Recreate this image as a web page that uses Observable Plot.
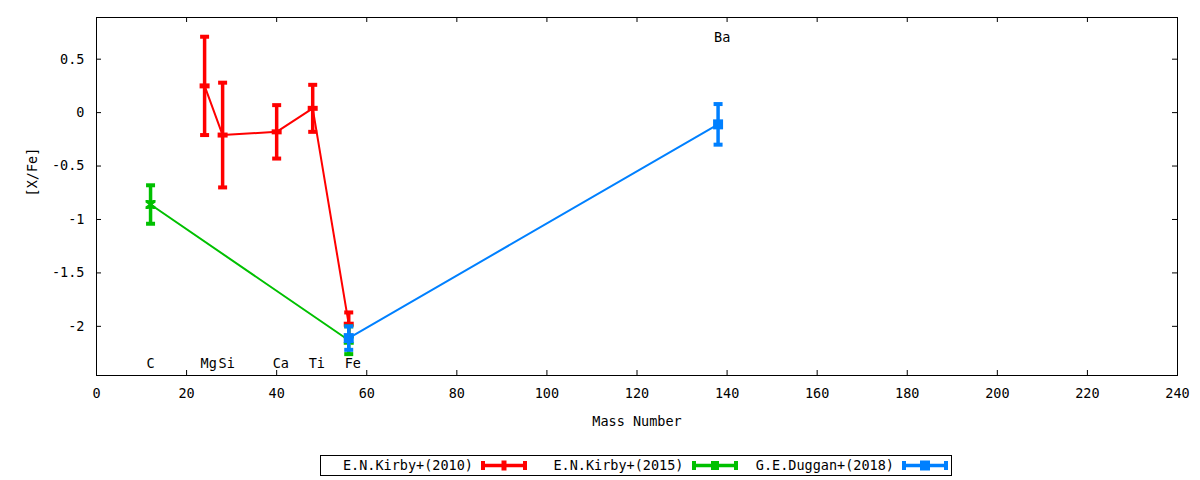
<!DOCTYPE html>
<html>
<head>
<meta charset="utf-8">
<script src="https://cdn.jsdelivr.net/npm/d3@7"></script>
<script src="https://cdn.jsdelivr.net/npm/@observablehq/plot@0.6"></script>
<style>
  body { margin: 0; background: #fff; font-family: "DejaVu Sans Mono", monospace; }
  #chart { position: relative; width: 1200px; height: 480px; overflow: hidden; }
  #legend { position: absolute; left: 320px; top: 455px; width: 630px; height: 19px; border: 1px solid #000; background: #fff; }
  .entry { position: absolute; top: 0; height: 19px; width: 210px; }
  .entry .lab { position: absolute; right: 58px; top: 0; line-height: 19px; font-size: 13.5px; white-space: nowrap; color: #000; }
  .entry svg { position: absolute; left: 160px; top: 3px; }
</style>
</head>
<body>
<div id="chart"></div>
<script>
// ---- data ----
const seriesNames = ["E.N.Kirby+(2010)", "E.N.Kirby+(2015)", "G.E.Duggan+(2018)"];
const seriesColors = ["#ff0000", "#00c000", "#0080ff"];

const kirby2010Element = ["Mg", "Si", "Ca", "Ti", "Fe"];
const kirby2010Mass    = [24, 28, 40, 48, 56];
const kirby2010Value   = [0.25, -0.21, -0.18, 0.04, -1.98];
const kirby2010Error   = [0.46, 0.49, 0.25, 0.22, 0.11];

const kirby2015Element = ["C", "Fe"];
const kirby2015Mass    = [12, 56];
const kirby2015Value   = [-0.86, -2.13];
const kirby2015Error   = [0.18, 0.13];

const duggan2018Element = ["Fe", "Ba"];
const duggan2018Mass    = [56, 138];
const duggan2018Value   = [-2.11, -0.11];
const duggan2018Error   = [0.11, 0.19];

const labelElement = ["C", "Mg", "Si", "Ca", "Ti", "Fe", "Ba"];
const labelMass    = [12, 24, 28, 40, 48, 56, 138];
const labelValue   = [-2.35, -2.35, -2.35, -2.35, -2.35, -2.35, 0.7];

const xTicks = [0, 20, 40, 60, 80, 100, 120, 140, 160, 180, 200, 220, 240];
const yTicks = [0.5, 0, -0.5, -1, -1.5, -2];
const xDomain = [0, 240];
const yDomain = [-2.46, 0.89];

// ---- build tables ----
function table(el, mass, val, err) {
  return el.map((e, i) => ({el: e, mass: mass[i], value: val[i], err: err[i]}));
}
const series = [
  table(kirby2010Element, kirby2010Mass, kirby2010Value, kirby2010Error),
  table(kirby2015Element, kirby2015Mass, kirby2015Value, kirby2015Error),
  table(duggan2018Element, duggan2018Mass, duggan2018Value, duggan2018Error)
];
const labels = labelElement.map((e, i) => ({el: e, mass: labelMass[i], value: labelValue[i]}));

// custom symbols
const capSymbol = {draw(ctx) { ctx.rect(-4.5, -2, 9, 4); }};
const barSymbol = {draw(ctx) { ctx.rect(-5, -2.5, 10, 5); }};
const bowSymbol = {draw(ctx) {
  ctx.moveTo(-5, -4.5); ctx.lineTo(-2, -4.5); ctx.lineTo(0, -1.5); ctx.lineTo(2, -4.5); ctx.lineTo(5, -4.5);
  ctx.lineTo(5, -2); ctx.lineTo(2, 0); ctx.lineTo(5, 2); ctx.lineTo(5, 4.5); ctx.lineTo(2, 4.5);
  ctx.lineTo(0, 1.5); ctx.lineTo(-2, 4.5); ctx.lineTo(-5, 4.5); ctx.lineTo(-5, 2); ctx.lineTo(-2, 0);
  ctx.lineTo(-5, -2); ctx.closePath();
}};
const squareSymbol = {draw(ctx) { ctx.rect(-5, -5, 10, 10); }};
const markerSymbols = [barSymbol, bowSymbol, squareSymbol];

const W = 1200, H = 450, mL = 96, mR = 23, mT = 17, mB = 75;
const fw = W - mL - mR, fh = H - mT - mB, tick = 5;
const FS = 13.5;

const seriesMarks = series.flatMap((data, i) => {
  const c = seriesColors[i];
  return [
    Plot.line(data, {x: "mass", y: "value", stroke: c, strokeWidth: 2}),
    Plot.ruleX(data, {x: "mass", y1: d => d.value - d.err, y2: d => d.value + d.err, stroke: c, strokeWidth: 3.5}),
    Plot.dot(data, {x: "mass", y: d => d.value + d.err, symbol: capSymbol, fill: c, stroke: "none", r: 5}),
    Plot.dot(data, {x: "mass", y: d => d.value - d.err, symbol: capSymbol, fill: c, stroke: "none", r: 5}),
    Plot.dot(data, {x: "mass", y: "value", symbol: markerSymbols[i], fill: c, stroke: "none", r: 5})
  ];
});

const chart = Plot.plot({
  width: W, height: H,
  marginLeft: mL, marginRight: mR, marginTop: mT, marginBottom: mB,
  style: {fontFamily: '"DejaVu Sans Mono", monospace', fontSize: FS + "px", background: "white", color: "black", overflow: "visible"},
  x: {domain: xDomain},
  y: {domain: yDomain},
  marks: [
    // inward, mirrored tick marks
    Plot.tickX(xTicks, {x: d => d, insetTop: fh - tick, stroke: "black"}),
    Plot.tickX(xTicks, {x: d => d, insetBottom: fh - tick, stroke: "black"}),
    Plot.tickY(yTicks, {y: d => d, insetRight: fw - tick, stroke: "black"}),
    Plot.tickY(yTicks, {y: d => d, insetLeft: fw - tick, stroke: "black"}),
    Plot.axisX({ticks: xTicks, tickSize: 0, tickPadding: 13, tickFormat: d => String(d), label: null, fontSize: FS}),
    Plot.axisY({ticks: yTicks, tickSize: 0, tickPadding: 12, tickFormat: d => String(d), label: null, fontSize: FS}),
    Plot.text(["Mass Number"], {frameAnchor: "bottom", dy: 50, text: d => d, fontSize: FS}),
    Plot.text(["[X/Fe]"], {frameAnchor: "left", dx: -64, rotate: -90, text: d => d, fontSize: FS}),
    Plot.frame({stroke: "black", strokeWidth: 1}),
    Plot.text(labels, {x: "mass", y: "value", text: "el", textAnchor: "start", dx: -4, fontSize: FS, fill: "black"}),
    ...seriesMarks
  ]
});
document.getElementById("chart").appendChild(chart);

// ---- legend ----
const legend = d3.select("#chart").append("div").attr("id", "legend");
seriesNames.forEach((name, i) => {
  const c = seriesColors[i];
  const entry = legend.append("div").attr("class", "entry").style("left", (i * 210.5) + "px");
  entry.append("span").attr("class", "lab").text(name);
  const svg = entry.append("svg").attr("width", 46).attr("height", 13);
  svg.append("line").attr("x1", 2).attr("x2", 44).attr("y1", 6.5).attr("y2", 6.5)
    .attr("stroke", c).attr("stroke-width", 3.5);
  svg.append("rect").attr("x", 0).attr("y", 2).attr("width", 4).attr("height", 9).attr("fill", c);
  svg.append("rect").attr("x", 42).attr("y", 2).attr("width", 4).attr("height", 9).attr("fill", c);
  const m = d3.path();
  if (i === 0) { m.rect(20.5, 1.5, 5, 10); }
  else if (i === 1) { m.rect(19, 2, 8, 9); }
  else { m.rect(18, 1.5, 10, 10); }
  svg.append("path").attr("d", m.toString()).attr("fill", c);
});
</script>
</body>
</html>
